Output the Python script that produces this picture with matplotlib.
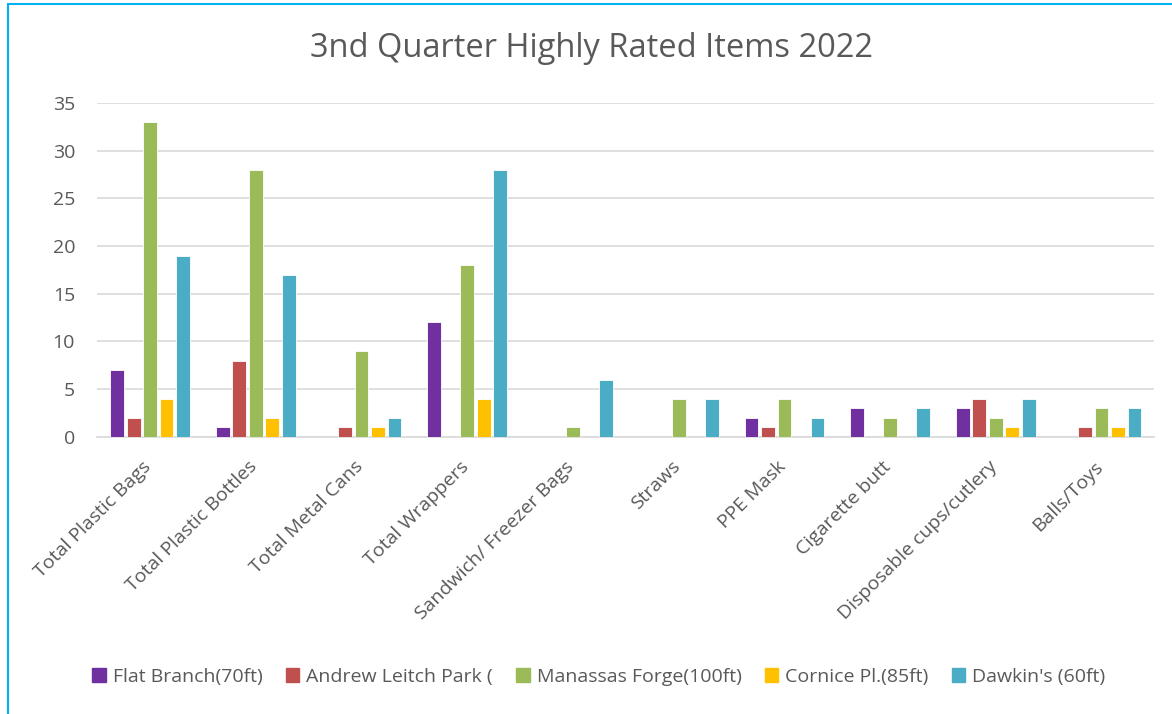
import matplotlib.pyplot as plt
import matplotlib.patches as mpatches
import matplotlib.transforms as mtransforms
import numpy as np

plt.rcParams['font.family'] = ['Open Sans', 'DejaVu Sans']

categories = ['Total Plastic Bags', 'Total Plastic Bottles', 'Total Metal Cans',
              'Total Wrappers', 'Sandwich/ Freezer Bags', 'Straws', 'PPE Mask',
              'Cigarette butt', 'Disposable cups/cutlery', 'Balls/Toys']

flat_branch = [7, 1, 0, 12, 0, 0, 2, 3, 3, 0]
andrew_leitch = [2, 8, 1, 0, 0, 0, 1, 0, 4, 1]
manassas_forge = [33, 28, 9, 18, 1, 4, 4, 2, 2, 3]
cornice = [4, 2, 1, 4, 0, 0, 0, 0, 1, 1]
dawkins = [19, 17, 2, 28, 6, 4, 2, 3, 4, 3]

series = [
    ('Flat Branch(70ft)', flat_branch, '#7030A0'),
    ('Andrew Leitch Park (', andrew_leitch, '#C0504D'),
    ('Manassas Forge(100ft)', manassas_forge, '#9BBB59'),
    ('Cornice Pl.(85ft)', cornice, '#FFC000'),
    ("Dawkin's (60ft)", dawkins, '#4BACC6'),
]

fig = plt.figure(figsize=(11.72, 7.14), dpi=100)
ax = fig.add_axes([0.083, 0.388, 0.902, 0.468])

x = np.arange(len(categories))
step = 0.156
width = 0.13
for i, (name, vals, color) in enumerate(series):
    ax.bar(x + (i - 2) * step, vals, width=width, color=color, label=name,
           edgecolor='white', linewidth=0.6, zorder=3)

ax.set_xlim(-0.5, len(categories) - 0.5)
ax.set_ylim(0, 35)
ax.set_yticks(range(0, 36, 5))
ax.yaxis.grid(True, color='#D9D9D9', linewidth=1.2, zorder=0)
ax.set_axisbelow(True)
for s in ['top', 'right', 'left']:
    ax.spines[s].set_visible(False)
ax.spines['bottom'].set_color('#D9D9D9')
ax.spines['bottom'].set_linewidth(1.2)
ax.tick_params(axis='both', length=0, labelcolor='#595959', labelsize=14)
ax.tick_params(axis='y', pad=16)
ax.set_xticks(x)
ax.set_xticklabels(categories, rotation=45, ha='right', rotation_mode='anchor')
ax.tick_params(axis='x', pad=12)

# nudge the rotated category labels so their ends sit under the groups
shift = mtransforms.ScaledTranslation(-8 / 100, -4 / 100, fig.dpi_scale_trans)
for lbl in ax.get_xticklabels():
    lbl.set_transform(lbl.get_transform() + shift)

fig.text(0.505, 0.932, '3nd Quarter Highly Rated Items 2022', ha='center', va='center',
         fontsize=23.5, color='#595959')

handles = [mpatches.Patch(color=c, label=n) for n, _, c in series]
fig.legend(handles=handles, loc='center', bbox_to_anchor=(0.511, 0.052), ncol=5,
           frameon=False, fontsize=14, handlelength=0.7, handleheight=0.75,
           handletextpad=0.35, columnspacing=1.2, labelcolor='#595959')

# outer frame
fig.patches.append(mpatches.Rectangle((0.007, -0.02), 1.0, 1.014, transform=fig.transFigure,
                                      fill=False, edgecolor='#00B0F0', linewidth=1.5))

fig.savefig('out.png', dpi=100, facecolor='white')
